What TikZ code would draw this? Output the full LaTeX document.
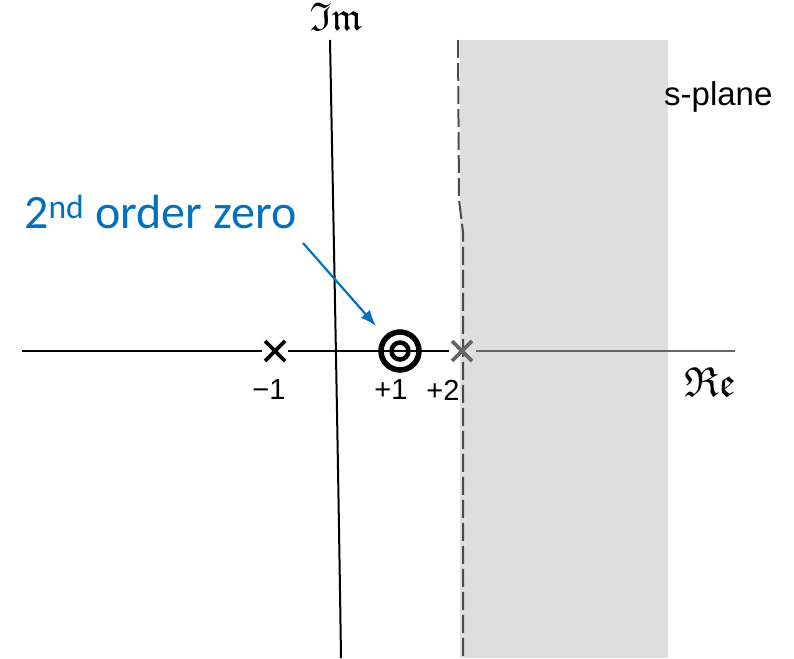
\documentclass[tikz,border=0pt]{standalone}
\usetikzlibrary{arrows.meta}
\usepackage{amssymb}
\usepackage{fontspec}
\setmainfont{Liberation Sans}
\newfontfamily\calib{Carlito}
\definecolor{planegray}{HTML}{DEDEDE}
\definecolor{dashgray}{HTML}{4A4A4A}
\definecolor{axisgray}{HTML}{666666}
\definecolor{annblue}{HTML}{0070C0}
\begin{document}
\begin{tikzpicture}[x=1pt,y=-1pt,
  axis/.style={line width=2pt,black},
  polemark/.style={line width=3.6pt},
  lbl/.style={font=\fontsize{29}{31}\selectfont,inner sep=0pt},
  ann/.style={font=\calib\fontsize{48}{52}\selectfont,text=annblue,inner sep=0pt,anchor=base west}]
\useasboundingbox (0,0) rectangle (794,658);
% shaded region
\fill[planegray] (460,40) rectangle (668,658);
% dashed boundary
\draw[dashgray,line width=2pt,dash pattern=on 18pt off 5pt] (458,40) -- (459,200) -- (463,232) -- (463,658);
% imaginary axis
\draw[axis] (330,40) .. controls (334,250) and (338,450) .. (341,658);
% real axis
\coordinate (ra0) at (22,351);
\coordinate (ra1) at (262,351);
\coordinate (ra2) at (288,351);
\coordinate (ra3) at (449,351);
\coordinate (ra4) at (476,351);
\coordinate (ra5) at (735,351);
\draw[axis] (ra0) -- (ra1);
\draw[axis] (ra2) -- (ra3);
\draw[axisgray,line width=2pt] (ra4) -- (ra5);
% poles
\node[inner sep=0pt,minimum size=0pt] (p1) at (275,351) {};
\draw[polemark] (265,341) -- (285,361) (265,361) -- (285,341);
\node[inner sep=0pt] (p2) at (462,351) {};
\draw[polemark,axisgray] (452,341) -- (472,361) (452,361) -- (472,341);
% double zero
\node[circle,draw,line width=5.5pt,minimum size=38pt,inner sep=0pt] (z) at (400,351) {};
\node[circle,draw,line width=4.5pt,minimum size=17pt,inner sep=0pt] (zi) at (400,351) {};
% labels
\node[lbl] (lm1) at (269,390) {−1};
\node[lbl] (lp1) at (391,390) {+1};
\node[lbl] (lp2) at (443,390) {+2};
\node[font=\fontsize{33}{35}\selectfont,inner sep=0pt,anchor=west] (sp) at (664,97) {s-plane};
\node[font=\fontsize{42}{44}\selectfont,inner sep=0pt] (re) at (710,382) {$\mathfrak{Re}$};
\node[font=\fontsize{40}{42}\selectfont,inner sep=0pt] (im) at (336,17) {$\mathfrak{Im}$};
% annotation
\node[ann] (ann) at (24,228) {2\textsuperscript{nd} order zero};
\coordinate (aend) at (376,326);
\draw[annblue,line width=2.2pt,-{Latex[length=16pt,width=12pt]}] (303,243) -- (aend);
\end{tikzpicture}
\end{document}
